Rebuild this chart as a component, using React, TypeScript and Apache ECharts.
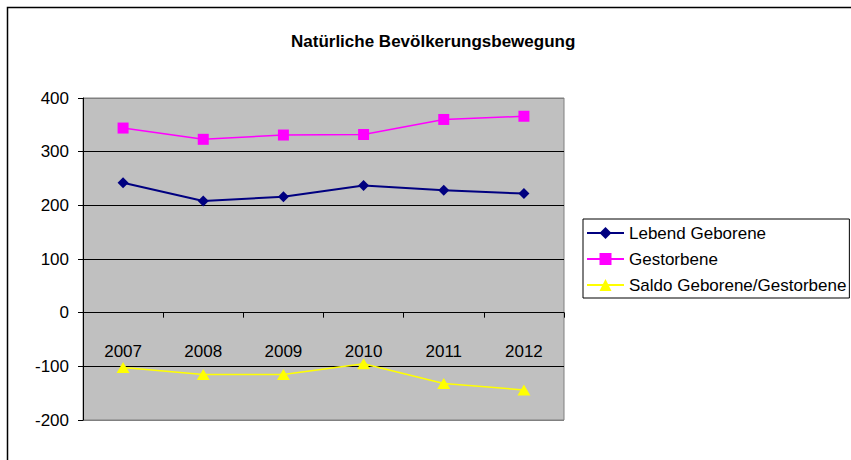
import React, { useEffect, useRef } from "react";
import * as echarts from "echarts";

const years = ["2007", "2008", "2009", "2010", "2011", "2012"];
const lebendGeborene = [242, 208, 216, 237, 228, 222];
const gestorbene = [344, 323, 331, 332, 360, 366];
const saldo = [-102, -115, -115, -95, -132, -144];
const seriesNames = ["Lebend Geborene", "Gestorbene", "Saldo Geborene/Gestorbene"];

const FONT = "'Liberation Sans', Arial, sans-serif";

export default function App() {
  const ref = useRef<HTMLDivElement>(null);
  useEffect(() => {
    if (!ref.current) return;
    const chart = echarts.init(ref.current, undefined, { renderer: "svg" });
    chart.setOption({
      animation: false,
      backgroundColor: "#ffffff",
      textStyle: { fontFamily: FONT },
      title: {
        text: "Natürliche Bevölkerungsbewegung",
        left: 291,
        top: 33,
        padding: 0,
        textStyle: { fontFamily: FONT, fontSize: 17, fontWeight: "bold", color: "#000" },
      },
      graphic: [
        {
          type: "rect",
          shape: { x: 7.5, y: 7.5, width: 900, height: 500 },
          style: { fill: "none", stroke: "#000", lineWidth: 1.5 },
          silent: true,
        },
      ],
      legend: {
        orient: "vertical",
        left: 583,
        top: 219,
        padding: [4, 3, 3, 3],
        borderColor: "#000",
        borderWidth: 1,
        itemWidth: 37,
        itemHeight: 15,
        itemGap: 6,
        textStyle: { fontFamily: FONT, fontSize: 17, color: "#000", lineHeight: 20 },
        data: seriesNames,
      },
      grid: {
        left: 83,
        top: 98,
        width: 481,
        height: 322,
        outerBoundsMode: "none",
        containLabel: false,
        show: true,
        backgroundColor: "#C0C0C0",
        borderColor: "#808080",
        borderWidth: 1,
      },
      xAxis: {
        type: "category",
        data: years,
        boundaryGap: true,
        axisLine: { onZero: true, lineStyle: { color: "#000", width: 1 } },
        axisTick: { show: true, length: 5, lineStyle: { color: "#000" } },
        axisLabel: { margin: -77, fontSize: 17, color: "#000", fontFamily: FONT },
        splitLine: { show: false },
      },
      yAxis: {
        type: "value",
        min: -200,
        max: 400,
        interval: 100,
        axisLine: { show: true, lineStyle: { color: "#000", width: 1 } },
        axisTick: { show: true, length: 5, lineStyle: { color: "#000" } },
        axisLabel: { margin: 14, fontSize: 17, color: "#000", fontFamily: FONT },
        splitLine: {
          show: true,
          lineStyle: {
            color: ["#808080", "#000", "#000", "#000", "#000", "#000", "#808080"],
            width: 1,
          },
        },
      },
      series: [
        {
          name: seriesNames[0],
          type: "line",
          data: lebendGeborene,
          symbol: "diamond",
          symbolSize: 11,
          lineStyle: { color: "#000080", width: 2 },
          itemStyle: { color: "#000080" },
        },
        {
          name: seriesNames[1],
          type: "line",
          data: gestorbene,
          symbol: "rect",
          symbolSize: 11,
          lineStyle: { color: "#FF00FF", width: 1.5 },
          itemStyle: { color: "#FF00FF" },
        },
        {
          name: seriesNames[2],
          type: "line",
          data: saldo,
          symbol: "triangle",
          symbolSize: [13, 11],
          lineStyle: { color: "#FFFF00", width: 1.5 },
          itemStyle: { color: "#FFFF00" },
        },
      ],
    });
    return () => chart.dispose();
  }, []);
  return (
    <div
      ref={ref}
      style={{ position: "absolute", left: 0, top: 0, width: 851, height: 460 }}
    />
  );
}
